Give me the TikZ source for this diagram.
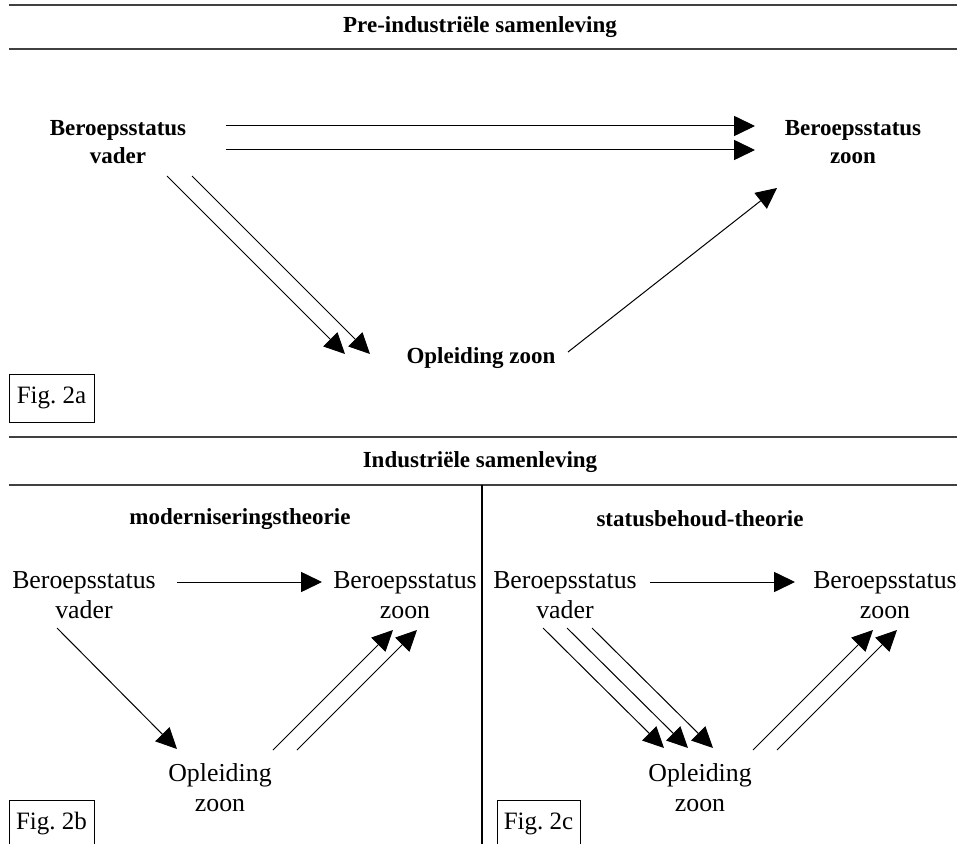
\documentclass[tikz,border=0pt]{standalone}
\usepackage{fontspec}
\setmainfont{Liberation Serif}
\usetikzlibrary{arrows.meta,calc}

\begin{document}
\begin{tikzpicture}[x=0.6pt,y=-0.6pt,
    arr/.style={line width=.6pt,-{Triangle[length=12.5pt,width=12pt]}},
    rule/.style={line width=1.2pt,black!75},
    kop/.style={font=\fontsize{13.8}{16.8}\selectfont\bfseries,align=center},
    lbl/.style={font=\fontsize{15.5}{18}\selectfont,align=center},
    figbox/.style={draw,line width=.6pt,font=\fontsize{15}{18}\selectfont,minimum height=28.8pt,inner sep=0pt}]
    \useasboundingbox (0,0) rectangle (961,844);
    \clip (0,0) rectangle (961,844);
    \draw[rule] (9,5) -- (957,5);
    \draw[rule] (9,48.6) -- (957,48.6);
    \draw[rule] (9,437) -- (957,437);
    \draw[rule] (9,485) -- (957,485);
    \draw[line width=.9pt] (482,485) -- (482,850);
    \node[kop] (pre) at (480,27) {Pre-industriële samenleving};
    \node[kop] (ind) at (480,462) {Industriële samenleving};
    \node[kop] (mod) at (240,519) {moderniseringstheorie};
    \node[kop] (sb) at (700,519) {statusbehoud-theorie};
    % Fig. 2a
    \node[kop] (va) at (118,142) {Beroepsstatus\\vader};
    \node[kop] (za) at (853,142) {Beroepsstatus\\zoon};
    \node[kop] (oa) at (481,358) {Opleiding zoon};
    \foreach \d in {0,24}
    \draw[arr] ($(va)+(108,-16+\d)$) -- ($(za)+(-98,-16+\d)$);
    \foreach \d in {0,25}
    \draw[arr] ($(va)+(49+\d,34)$) -- ($(oa)+(-136+\d,-4)$);
    \draw[arr] ($(oa)+(87,-6)$) -- ($(za)+(-76,46)$);
    \node[figbox,minimum width=51pt] (fa) at (51.5,398) {Fig.\ 2a};
    % Fig. 2b
    \node[lbl] (vb) at (84,595) {Beroepsstatus\\vader};
    \node[lbl] (zb) at (405,595) {Beroepsstatus\\zoon};
    \node[lbl] (ob) at (220,788) {Opleiding\\zoon};
    \draw[arr] ($(vb)+(93,-13)$) -- ($(zb)+(-83,-13)$);
    \draw[arr] ($(vb)+(-27,33)$) -- ($(ob)+(-43,-39)$);
    \foreach \d in {0,24}
    \draw[arr] ($(ob)+(53+\d,-38)$) -- ($(zb)+(-12+\d,35)$);
    \node[figbox,minimum width=51pt] (fb) at (51.5,824) {Fig.\ 2b};
    % Fig. 2c
    \node[lbl] (vc) at (565,595) {Beroepsstatus\\vader};
    \node[lbl] (zc) at (885,595) {Beroepsstatus\\zoon};
    \node[lbl] (oc) at (700,788) {Opleiding\\zoon};
    \draw[arr] ($(vc)+(85,-13)$) -- ($(zc)+(-90,-13)$);
    \foreach \d in {0,24,49}
    \draw[arr] ($(vc)+(-22+\d,33)$) -- ($(oc)+(-36+\d,-40)$);
    \foreach \d in {0,24}
    \draw[arr] ($(oc)+(53+\d,-38)$) -- ($(zc)+(-12+\d,35)$);
    \node[figbox,minimum width=49.8pt] (fc) at (538.5,824) {Fig.\ 2c};
\end{tikzpicture}
\end{document}
